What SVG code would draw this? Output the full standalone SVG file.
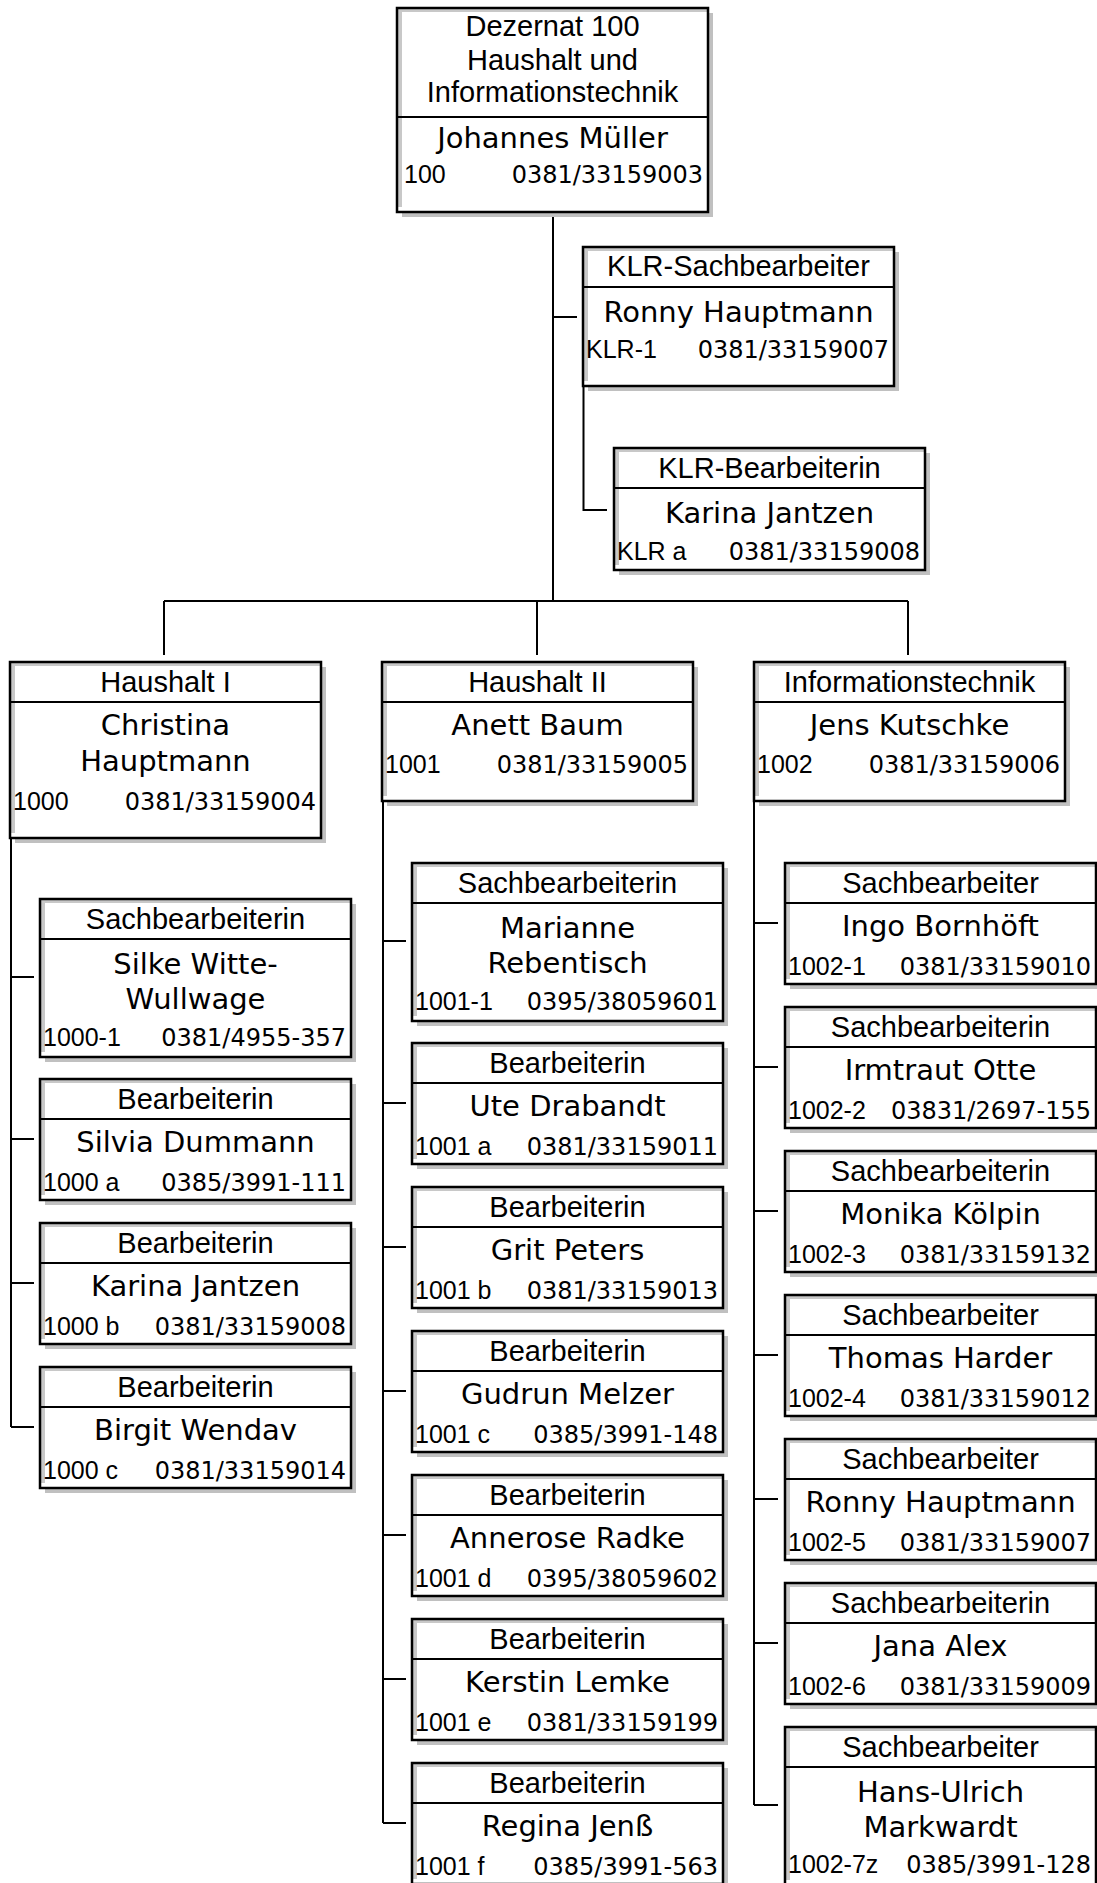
<svg xmlns="http://www.w3.org/2000/svg" width="1097" height="1883" viewBox="0 0 1097 1883">
<style>
.sh{fill:#c0c0c0}
.bg{fill:#fff}
.in{fill:#c8c8c8}
.bd{fill:none;stroke:#000;stroke-width:2.5}
.dv{stroke:#000;stroke-width:2}
.cn path{fill:none;stroke:#000;stroke-width:2}
text{fill:#000}
.t{font-family:"Liberation Sans",Arial,sans-serif;font-size:29px;text-anchor:middle}
.nm{font-family:"DejaVu Sans",Verdana,sans-serif;font-size:29px;text-anchor:middle}
.cd{font-family:"Liberation Sans",Arial,sans-serif;font-size:25px}
.ph{font-family:"DejaVu Sans",Verdana,sans-serif;font-size:24px;text-anchor:end}
</style>
<rect width="1097" height="1883" fill="#fff"/>

<g id="connectors" class="cn">
<path d="M553 216V601"/>
<path d="M553 317H577"/>
<path d="M583.5 386V510H607"/>
<path d="M164 601H908"/>
<path d="M164 601V655M537 601V655M908 601V655"/>
<path d="M11 838V1427"/>
<path d="M11 977H34M11 1139H34M11 1283H34M11 1427H34"/>
<path d="M383 801V1823"/>
<path d="M383 941H406M383 1103H406M383 1247H406M383 1391H406M383 1535H406M383 1679H406M383 1823H406"/>
<path d="M754 801V1805"/>
<path d="M754 923H778M754 1067H778M754 1211H778M754 1355H778M754 1499H778M754 1643H778M754 1805H778"/>
</g>

<g id="n-dezernat" transform="translate(397,8)">
<rect class="sh" x="5" y="5" width="311" height="204"/><rect class="bg" width="311" height="204"/>
<rect class="in" x="1" y="1" width="4" height="198"/><rect class="in" x="1" y="1" width="309" height="3"/>
<rect class="bd" width="311" height="204"/><line class="dv" x1="0" y1="109" x2="311" y2="109"/>
<text class="t" x="155.5" y="28">Dezernat 100</text>
<text class="t" x="155.5" y="62">Haushalt und</text>
<text class="t" x="155.5" y="94">Informationstechnik</text>
<text class="nm" x="155.5" y="140">Johannes Müller</text>
<text class="cd" x="7" y="175">100</text><text class="ph" x="306" y="175">0381/33159003</text>
</g>

<g id="n-klr-s" transform="translate(583,247)">
<rect class="sh" x="5" y="5" width="311" height="139"/><rect class="bg" width="311" height="139"/>
<rect class="in" x="1" y="1" width="4" height="133"/><rect class="in" x="1" y="1" width="309" height="3"/>
<rect class="bd" width="311" height="139"/><line class="dv" x1="0" y1="40" x2="311" y2="40"/>
<text class="t" x="155.5" y="29">KLR-Sachbearbeiter</text>
<text class="nm" x="155.5" y="75">Ronny Hauptmann</text>
<text class="cd" x="3" y="111">KLR-1</text><text class="ph" x="306" y="111">0381/33159007</text>
</g>

<g id="n-klr-b" transform="translate(614,448)">
<rect class="sh" x="5" y="5" width="311" height="122"/><rect class="bg" width="311" height="122"/>
<rect class="in" x="1" y="1" width="4" height="116"/><rect class="in" x="1" y="1" width="309" height="3"/>
<rect class="bd" width="311" height="122"/><line class="dv" x1="0" y1="40" x2="311" y2="40"/>
<text class="t" x="155.5" y="30">KLR-Bearbeiterin</text>
<text class="nm" x="155.5" y="75">Karina Jantzen</text>
<text class="cd" x="3" y="112">KLR a</text><text class="ph" x="306" y="112">0381/33159008</text>
</g>

<g id="n-haushalt1" transform="translate(10,662)">
<rect class="sh" x="5" y="5" width="311" height="176"/><rect class="bg" width="311" height="176"/>
<rect class="in" x="1" y="1" width="4" height="170"/><rect class="in" x="1" y="1" width="309" height="3"/>
<rect class="bd" width="311" height="176"/><line class="dv" x1="0" y1="40" x2="311" y2="40"/>
<text class="t" x="155.5" y="30">Haushalt I</text>
<text class="nm" x="155.5" y="73">Christina</text>
<text class="nm" x="155.5" y="109">Hauptmann</text>
<text class="cd" x="3" y="148">1000</text><text class="ph" x="306" y="148">0381/33159004</text>
</g>

<g id="n-haushalt2" transform="translate(382,662)">
<rect class="sh" x="5" y="5" width="311" height="139"/><rect class="bg" width="311" height="139"/>
<rect class="in" x="1" y="1" width="4" height="133"/><rect class="in" x="1" y="1" width="309" height="3"/>
<rect class="bd" width="311" height="139"/><line class="dv" x1="0" y1="40" x2="311" y2="40"/>
<text class="t" x="155.5" y="30">Haushalt II</text>
<text class="nm" x="155.5" y="73">Anett Baum</text>
<text class="cd" x="3" y="111">1001</text><text class="ph" x="306" y="111">0381/33159005</text>
</g>

<g id="n-it" transform="translate(754,662)">
<rect class="sh" x="5" y="5" width="311" height="139"/><rect class="bg" width="311" height="139"/>
<rect class="in" x="1" y="1" width="4" height="133"/><rect class="in" x="1" y="1" width="309" height="3"/>
<rect class="bd" width="311" height="139"/><line class="dv" x1="0" y1="40" x2="311" y2="40"/>
<text class="t" x="155.5" y="30">Informationstechnik</text>
<text class="nm" x="155.5" y="73">Jens Kutschke</text>
<text class="cd" x="3" y="111">1002</text><text class="ph" x="306" y="111">0381/33159006</text>
</g>

<!-- Haushalt I children -->
<g id="n-1000-1" transform="translate(40,899)">
<rect class="sh" x="5" y="5" width="311" height="158"/><rect class="bg" width="311" height="158"/>
<rect class="in" x="1" y="1" width="4" height="152"/><rect class="in" x="1" y="1" width="309" height="3"/>
<rect class="bd" width="311" height="158"/><line class="dv" x1="0" y1="40" x2="311" y2="40"/>
<text class="t" x="155.5" y="30">Sachbearbeiterin</text>
<text class="nm" x="155.5" y="75">Silke Witte-</text>
<text class="nm" x="155.5" y="110">Wullwage</text>
<text class="cd" x="3" y="147">1000-1</text><text class="ph" x="306" y="147">0381/4955-357</text>
</g>

<g id="n-1000a" transform="translate(40,1079)">
<rect class="sh" x="5" y="5" width="311" height="121"/><rect class="bg" width="311" height="121"/>
<rect class="in" x="1" y="1" width="4" height="115"/><rect class="in" x="1" y="1" width="309" height="3"/>
<rect class="bd" width="311" height="121"/><line class="dv" x1="0" y1="40" x2="311" y2="40"/>
<text class="t" x="155.5" y="30">Bearbeiterin</text>
<text class="nm" x="155.5" y="73">Silvia Dummann</text>
<text class="cd" x="3" y="112">1000 a</text><text class="ph" x="306" y="112">0385/3991-111</text>
</g>

<g id="n-1000b" transform="translate(40,1223)">
<rect class="sh" x="5" y="5" width="311" height="121"/><rect class="bg" width="311" height="121"/>
<rect class="in" x="1" y="1" width="4" height="115"/><rect class="in" x="1" y="1" width="309" height="3"/>
<rect class="bd" width="311" height="121"/><line class="dv" x1="0" y1="40" x2="311" y2="40"/>
<text class="t" x="155.5" y="30">Bearbeiterin</text>
<text class="nm" x="155.5" y="73">Karina Jantzen</text>
<text class="cd" x="3" y="112">1000 b</text><text class="ph" x="306" y="112">0381/33159008</text>
</g>

<g id="n-1000c" transform="translate(40,1367)">
<rect class="sh" x="5" y="5" width="311" height="121"/><rect class="bg" width="311" height="121"/>
<rect class="in" x="1" y="1" width="4" height="115"/><rect class="in" x="1" y="1" width="309" height="3"/>
<rect class="bd" width="311" height="121"/><line class="dv" x1="0" y1="40" x2="311" y2="40"/>
<text class="t" x="155.5" y="30">Bearbeiterin</text>
<text class="nm" x="155.5" y="73">Birgit Wendav</text>
<text class="cd" x="3" y="112">1000 c</text><text class="ph" x="306" y="112">0381/33159014</text>
</g>

<!-- Haushalt II children -->
<g id="n-1001-1" transform="translate(412,863)">
<rect class="sh" x="5" y="5" width="311" height="158"/><rect class="bg" width="311" height="158"/>
<rect class="in" x="1" y="1" width="4" height="152"/><rect class="in" x="1" y="1" width="309" height="3"/>
<rect class="bd" width="311" height="158"/><line class="dv" x1="0" y1="40" x2="311" y2="40"/>
<text class="t" x="155.5" y="30">Sachbearbeiterin</text>
<text class="nm" x="155.5" y="75">Marianne</text>
<text class="nm" x="155.5" y="110">Rebentisch</text>
<text class="cd" x="3" y="147">1001-1</text><text class="ph" x="306" y="147">0395/38059601</text>
</g>

<g id="n-1001a" transform="translate(412,1043)">
<rect class="sh" x="5" y="5" width="311" height="121"/><rect class="bg" width="311" height="121"/>
<rect class="in" x="1" y="1" width="4" height="115"/><rect class="in" x="1" y="1" width="309" height="3"/>
<rect class="bd" width="311" height="121"/><line class="dv" x1="0" y1="40" x2="311" y2="40"/>
<text class="t" x="155.5" y="30">Bearbeiterin</text>
<text class="nm" x="155.5" y="73">Ute Drabandt</text>
<text class="cd" x="3" y="112">1001 a</text><text class="ph" x="306" y="112">0381/33159011</text>
</g>

<g id="n-1001b" transform="translate(412,1187)">
<rect class="sh" x="5" y="5" width="311" height="121"/><rect class="bg" width="311" height="121"/>
<rect class="in" x="1" y="1" width="4" height="115"/><rect class="in" x="1" y="1" width="309" height="3"/>
<rect class="bd" width="311" height="121"/><line class="dv" x1="0" y1="40" x2="311" y2="40"/>
<text class="t" x="155.5" y="30">Bearbeiterin</text>
<text class="nm" x="155.5" y="73">Grit Peters</text>
<text class="cd" x="3" y="112">1001 b</text><text class="ph" x="306" y="112">0381/33159013</text>
</g>

<g id="n-1001c" transform="translate(412,1331)">
<rect class="sh" x="5" y="5" width="311" height="121"/><rect class="bg" width="311" height="121"/>
<rect class="in" x="1" y="1" width="4" height="115"/><rect class="in" x="1" y="1" width="309" height="3"/>
<rect class="bd" width="311" height="121"/><line class="dv" x1="0" y1="40" x2="311" y2="40"/>
<text class="t" x="155.5" y="30">Bearbeiterin</text>
<text class="nm" x="155.5" y="73">Gudrun Melzer</text>
<text class="cd" x="3" y="112">1001 c</text><text class="ph" x="306" y="112">0385/3991-148</text>
</g>

<g id="n-1001d" transform="translate(412,1475)">
<rect class="sh" x="5" y="5" width="311" height="121"/><rect class="bg" width="311" height="121"/>
<rect class="in" x="1" y="1" width="4" height="115"/><rect class="in" x="1" y="1" width="309" height="3"/>
<rect class="bd" width="311" height="121"/><line class="dv" x1="0" y1="40" x2="311" y2="40"/>
<text class="t" x="155.5" y="30">Bearbeiterin</text>
<text class="nm" x="155.5" y="73">Annerose Radke</text>
<text class="cd" x="3" y="112">1001 d</text><text class="ph" x="306" y="112">0395/38059602</text>
</g>

<g id="n-1001e" transform="translate(412,1619)">
<rect class="sh" x="5" y="5" width="311" height="121"/><rect class="bg" width="311" height="121"/>
<rect class="in" x="1" y="1" width="4" height="115"/><rect class="in" x="1" y="1" width="309" height="3"/>
<rect class="bd" width="311" height="121"/><line class="dv" x1="0" y1="40" x2="311" y2="40"/>
<text class="t" x="155.5" y="30">Bearbeiterin</text>
<text class="nm" x="155.5" y="73">Kerstin Lemke</text>
<text class="cd" x="3" y="112">1001 e</text><text class="ph" x="306" y="112">0381/33159199</text>
</g>

<g id="n-1001f" transform="translate(412,1763)">
<rect class="sh" x="5" y="5" width="311" height="121"/><rect class="bg" width="311" height="121"/>
<rect class="in" x="1" y="1" width="4" height="115"/><rect class="in" x="1" y="1" width="309" height="3"/>
<rect class="bd" width="311" height="121"/><line class="dv" x1="0" y1="40" x2="311" y2="40"/>
<text class="t" x="155.5" y="30">Bearbeiterin</text>
<text class="nm" x="155.5" y="73">Regina Jenß</text>
<text class="cd" x="3" y="112">1001 f</text><text class="ph" x="306" y="112">0385/3991-563</text>
</g>

<!-- Informationstechnik children -->
<g id="n-1002-1" transform="translate(785,863)">
<rect class="sh" x="5" y="5" width="311" height="121"/><rect class="bg" width="311" height="121"/>
<rect class="in" x="1" y="1" width="4" height="115"/><rect class="in" x="1" y="1" width="309" height="3"/>
<rect class="bd" width="311" height="121"/><line class="dv" x1="0" y1="40" x2="311" y2="40"/>
<text class="t" x="155.5" y="30">Sachbearbeiter</text>
<text class="nm" x="155.5" y="73">Ingo Bornhöft</text>
<text class="cd" x="3" y="112">1002-1</text><text class="ph" x="306" y="112">0381/33159010</text>
</g>

<g id="n-1002-2" transform="translate(785,1007)">
<rect class="sh" x="5" y="5" width="311" height="121"/><rect class="bg" width="311" height="121"/>
<rect class="in" x="1" y="1" width="4" height="115"/><rect class="in" x="1" y="1" width="309" height="3"/>
<rect class="bd" width="311" height="121"/><line class="dv" x1="0" y1="40" x2="311" y2="40"/>
<text class="t" x="155.5" y="30">Sachbearbeiterin</text>
<text class="nm" x="155.5" y="73">Irmtraut Otte</text>
<text class="cd" x="3" y="112">1002-2</text><text class="ph" x="306" y="112">03831/2697-155</text>
</g>

<g id="n-1002-3" transform="translate(785,1151)">
<rect class="sh" x="5" y="5" width="311" height="121"/><rect class="bg" width="311" height="121"/>
<rect class="in" x="1" y="1" width="4" height="115"/><rect class="in" x="1" y="1" width="309" height="3"/>
<rect class="bd" width="311" height="121"/><line class="dv" x1="0" y1="40" x2="311" y2="40"/>
<text class="t" x="155.5" y="30">Sachbearbeiterin</text>
<text class="nm" x="155.5" y="73">Monika Kölpin</text>
<text class="cd" x="3" y="112">1002-3</text><text class="ph" x="306" y="112">0381/33159132</text>
</g>

<g id="n-1002-4" transform="translate(785,1295)">
<rect class="sh" x="5" y="5" width="311" height="121"/><rect class="bg" width="311" height="121"/>
<rect class="in" x="1" y="1" width="4" height="115"/><rect class="in" x="1" y="1" width="309" height="3"/>
<rect class="bd" width="311" height="121"/><line class="dv" x1="0" y1="40" x2="311" y2="40"/>
<text class="t" x="155.5" y="30">Sachbearbeiter</text>
<text class="nm" x="155.5" y="73">Thomas Harder</text>
<text class="cd" x="3" y="112">1002-4</text><text class="ph" x="306" y="112">0381/33159012</text>
</g>

<g id="n-1002-5" transform="translate(785,1439)">
<rect class="sh" x="5" y="5" width="311" height="121"/><rect class="bg" width="311" height="121"/>
<rect class="in" x="1" y="1" width="4" height="115"/><rect class="in" x="1" y="1" width="309" height="3"/>
<rect class="bd" width="311" height="121"/><line class="dv" x1="0" y1="40" x2="311" y2="40"/>
<text class="t" x="155.5" y="30">Sachbearbeiter</text>
<text class="nm" x="155.5" y="73">Ronny Hauptmann</text>
<text class="cd" x="3" y="112">1002-5</text><text class="ph" x="306" y="112">0381/33159007</text>
</g>

<g id="n-1002-6" transform="translate(785,1583)">
<rect class="sh" x="5" y="5" width="311" height="121"/><rect class="bg" width="311" height="121"/>
<rect class="in" x="1" y="1" width="4" height="115"/><rect class="in" x="1" y="1" width="309" height="3"/>
<rect class="bd" width="311" height="121"/><line class="dv" x1="0" y1="40" x2="311" y2="40"/>
<text class="t" x="155.5" y="30">Sachbearbeiterin</text>
<text class="nm" x="155.5" y="73">Jana Alex</text>
<text class="cd" x="3" y="112">1002-6</text><text class="ph" x="306" y="112">0381/33159009</text>
</g>

<g id="n-1002-7z" transform="translate(785,1727)">
<rect class="sh" x="5" y="5" width="311" height="158"/><rect class="bg" width="311" height="158"/>
<rect class="in" x="1" y="1" width="4" height="152"/><rect class="in" x="1" y="1" width="309" height="3"/>
<rect class="bd" width="311" height="158"/><line class="dv" x1="0" y1="40" x2="311" y2="40"/>
<text class="t" x="155.5" y="30">Sachbearbeiter</text>
<text class="nm" x="155.5" y="75">Hans-Ulrich</text>
<text class="nm" x="155.5" y="110">Markwardt</text>
<text class="cd" x="3" y="146">1002-7z</text><text class="ph" x="306" y="146">0385/3991-128</text>
</g>
</svg>
